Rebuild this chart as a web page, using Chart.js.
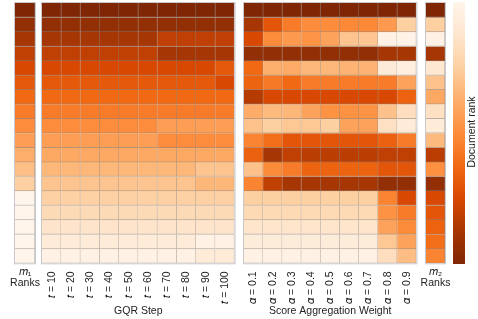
<!DOCTYPE html>
<html>
<head>
<meta charset="utf-8">
<script src="https://cdn.jsdelivr.net/npm/chart.js@4.4.1/dist/chart.umd.min.js"></script>
<style>
  html, body { margin: 0; padding: 0; background: #fff; }
  body { width: 478px; height: 319px; position: relative; overflow: hidden; font-family: "Liberation Sans", Arial, sans-serif; }
  .panel { position: absolute; top: 0; height: 319px; }
  #cbLabel { position: absolute; left: 471px; top: 132px; transform: translate(-50%, -50%) rotate(-90deg); font-size: 10.5px; white-space: nowrap; color: #222; }
</style>
</head>
<body>
<div class="panel" style="left:-5px;width:60px"><canvas id="m1Chart"></canvas></div>
<div class="panel" style="left:32px;width:214px"><canvas id="gqrChart"></canvas></div>
<div class="panel" style="left:234px;width:194px"><canvas id="scoreChart"></canvas></div>
<div class="panel" style="left:406px;width:59px"><canvas id="m2Chart"></canvas></div>
<div class="panel" style="left:453px;width:12px"><canvas id="cbChart"></canvas></div>
<div id="cbLabel">Document rank</div>
<script>
const rankMin = 1;
const rankMax = 17;

const gqrSteps = ['𝑡 = 10', '𝑡 = 20', '𝑡 = 30', '𝑡 = 40', '𝑡 = 50', '𝑡 = 60', '𝑡 = 70', '𝑡 = 80', '𝑡 = 90', '𝑡 = 100'];
const alphaWeights = ['𝛼 = 0.1', '𝛼 = 0.2', '𝛼 = 0.3', '𝛼 = 0.4', '𝛼 = 0.5', '𝛼 = 0.6', '𝛼 = 0.7', '𝛼 = 0.8', '𝛼 = 0.9'];
const m1Label = ['𝑚₁', 'Ranks'];
const m2Label = ['𝑚₂', 'Ranks'];

// one value per document (row), top to bottom
const m1Ranks = [1, 2, 3, 4, 5, 6, 7, 8, 9, 10, 11, 12, 13, 17, 17, 17, 17, 17];
const m2Ranks = [1, 13, 16.5, 3, 15.3, 12.2, 10.7, 14.5, 15.7, 11.7, 3.8, 9.2, 2, 5, 5.8, 6.6, 7.3, 8.5];

// rows = documents, columns = GQR steps
const gqrRanks = [
  [1, 1, 1, 1, 1, 1, 1, 1, 1, 1],
  [2, 2, 2, 2, 2, 2, 2, 2, 2, 2],
  [3, 3, 3, 3, 3, 3, 4, 4, 4, 4],
  [4, 4, 4, 4, 4, 4, 3, 3, 3, 3],
  [5, 5, 5, 5, 5, 5, 5, 5, 5, 6],
  [6, 6, 6, 6, 6, 6, 6, 6, 6, 5],
  [7, 7, 7, 7, 7, 7, 7, 7, 7, 7],
  [8, 8, 8, 8, 8, 8, 8, 8, 8, 8],
  [9, 9, 9, 9, 9, 9, 10, 10, 10, 10],
  [10, 10, 10, 10, 10, 10, 9, 9, 9, 9],
  [10.7, 10.7, 10.7, 10.7, 10.7, 10.7, 10.7, 10.7, 10.7, 10.7],
  [11.5, 11.5, 11.5, 11.5, 11.5, 11.5, 11.5, 11.5, 12.3, 12.3],
  [12.3, 12.3, 12.3, 12.3, 12.3, 12.3, 12.3, 12.3, 11.5, 11.5],
  [13.1, 13.1, 13.1, 13.1, 13.1, 13.1, 13.1, 13.1, 13.1, 13.1],
  [13.9, 13.9, 13.9, 13.9, 13.9, 13.9, 13.9, 13.9, 13.9, 13.9],
  [14.8, 14.8, 14.8, 14.8, 14.8, 14.8, 14.8, 14.8, 14.8, 14.8],
  [15.7, 15.7, 15.7, 15.7, 15.7, 15.7, 15.7, 15.7, 16.5, 16.5],
  [16.5, 16.5, 16.5, 16.5, 16.5, 16.5, 16.5, 16.5, 15.7, 15.7]
];

// rows = documents, columns = aggregation weights
const scoreRanks = [
  [1, 1, 1, 1, 1, 1, 1, 1, 1],
  [3, 5.8, 8, 9, 9, 8.8, 8.8, 9.8, 13],
  [5, 8.9, 9.8, 9.4, 10.3, 12.3, 12.4, 16.5, 16.7],
  [2, 2, 2, 2, 2, 2, 2, 3, 3],
  [7, 11.1, 10.8, 11.5, 11.5, 11.3, 11.3, 15.6, 16.2],
  [6.7, 7.9, 7, 8, 8, 8, 8, 8, 10.3],
  [3.6, 5, 5, 5, 5, 5, 5, 5, 6.6],
  [10.9, 11.7, 11.5, 10.3, 9.3, 9.3, 9.4, 12.2, 14.3],
  [12.2, 13, 12.5, 12.5, 13, 10.3, 10.3, 14.5, 15.7],
  [8.5, 7.3, 5.8, 5.8, 5.8, 5.8, 5.8, 6.5, 8],
  [6.5, 3, 4, 3.8, 3.8, 3.8, 3.8, 4, 4],
  [12.2, 8.9, 8, 6.7, 6.7, 6.7, 6.7, 5.8, 5.8],
  [8.5, 4, 3, 3, 3, 3, 3, 2, 2],
  [13, 13, 13, 13, 13, 13, 13, 8.5, 5],
  [13.8, 13.8, 13.8, 13.8, 13.8, 13.8, 13.8, 9.3, 8],
  [14.9, 14.9, 14.9, 14.9, 14.9, 14.9, 14.9, 10.3, 8.9],
  [15.8, 15.8, 15.8, 15.8, 15.8, 15.8, 15.8, 12.5, 10.3],
  [16.5, 16.5, 16.5, 16.5, 16.5, 16.5, 16.5, 14.3, 11.9]
];

const FONT = '"Liberation Sans", "DejaVu Sans", sans-serif';
const TEXT = '#222';
const plotBottom = 263.3;

// matplotlib "Oranges"
const oranges = ['#fff5eb', '#fee6ce', '#fdd0a2', '#fdae6b', '#fd8d3c', '#f16913', '#d94801', '#a63603', '#7f2704'];
const orangesRgb = oranges.map(h => [1, 3, 5].map(i => parseInt(h.substr(i, 2), 16)));

function rgbFor(rank) {
  let t = (rankMax - rank) / (rankMax - rankMin);
  t = Math.max(0, Math.min(1, t)) * 8;
  const i = Math.min(7, Math.floor(t));
  const f = t - i;
  return orangesRgb[i].map((c, k) => Math.round(c + (orangesRgb[i + 1][k] - c) * f));
}
function rankColor(rank) {
  const c = rgbFor(rank);
  return `rgb(${c[0]},${c[1]},${c[2]})`;
}
function lineColor(rank) {
  const c = rgbFor(rank).map(v => Math.round(v * 0.45 + 135 * 0.55));
  return `rgb(${c[0]},${c[1]},${c[2]})`;
}

const framePlugin = {
  id: 'frame',
  afterDatasetsDraw(chart) {
    const {ctx, chartArea: a} = chart;
    ctx.save();
    ctx.strokeStyle = '#c8c8ce';
    ctx.lineWidth = 1;
    ctx.strokeRect(a.left - 0.5, a.top - 0.5, a.right - a.left + 1, a.bottom - a.top + 1);
    ctx.restore();
  }
};

// single = one-column rank strip, labelled by its (unrotated) tick label
function heatChart(id, labels, rows, title, single) {
  const datasets = rows.map((vals, i) => ({
    data: vals.map(() => [i, i + 1]),
    backgroundColor: vals.map(rankColor),
    borderColor: vals.map(lineColor)
  }));
  const side = single ? 20 : 10;
  return new Chart(document.getElementById(id), {
    type: 'bar',
    data: {labels: labels, datasets: datasets},
    plugins: [framePlugin],
    options: {
      animation: false,
      responsive: true,
      maintainAspectRatio: false,
      layout: {padding: {left: side, right: side, top: 3, bottom: 0}},
      plugins: {legend: {display: false}, tooltip: {enabled: false}},
      datasets: {
        bar: {
          grouped: false,
          barPercentage: 1,
          categoryPercentage: 1,
          borderSkipped: false,
          borderWidth: {top: 0, left: 0, right: 1, bottom: 1}
        }
      },
      scales: {
        y: {type: 'linear', display: false, reverse: true, min: 0, max: rows.length},
        x: {
          grid: {display: false, drawTicks: false},
          border: {display: false},
          ticks: {
            autoSkip: false,
            minRotation: single ? 0 : 90,
            maxRotation: single ? 0 : 90,
            padding: single ? 3.2 : 8,
            color: TEXT,
            font: {family: FONT, size: 10.5, lineHeight: single ? 1.05 : 1.2}
          },
          title: {
            display: !single,
            text: title,
            color: TEXT,
            font: {family: FONT, size: 10.5},
            padding: {top: 0, bottom: 1.2}
          },
          afterFit: s => { s.height = 319 - plotBottom; }
        }
      }
    }
  });
}

heatChart('m1Chart', [m1Label], m1Ranks.map(v => [v]), '', true);
heatChart('gqrChart', gqrSteps, gqrRanks, 'GQR Step', false);
heatChart('scoreChart', alphaWeights, scoreRanks, 'Score Aggregation Weight', false);
heatChart('m2Chart', [m2Label], m2Ranks.map(v => [v]), '', true);

// colour bar
function barGradient(c) {
  const {chart} = c;
  const a = chart.chartArea;
  if (!a) return 'transparent';
  const y = chart.scales.y;
  const g = chart.ctx.createLinearGradient(0, y.getPixelForValue(rankMin), 0, y.getPixelForValue(rankMax));
  oranges.slice().reverse().forEach((col, k) => g.addColorStop(k / 8, col));
  return g;
}
new Chart(document.getElementById('cbChart'), {
  type: 'bar',
  data: {
    labels: [''],
    datasets: [{data: [[rankMin, rankMax]], backgroundColor: barGradient, borderWidth: 0, barPercentage: 1, categoryPercentage: 1}]
  },
  options: {
    animation: false,
    responsive: true,
    maintainAspectRatio: false,
    layout: {padding: {top: 2, bottom: 55, left: 0, right: 0}},
    plugins: {legend: {display: false}, tooltip: {enabled: false}},
    scales: {
      x: {display: false},
      y: {display: false, min: rankMin, max: rankMax}
    }
  }
});
</script>
</body>
</html>
